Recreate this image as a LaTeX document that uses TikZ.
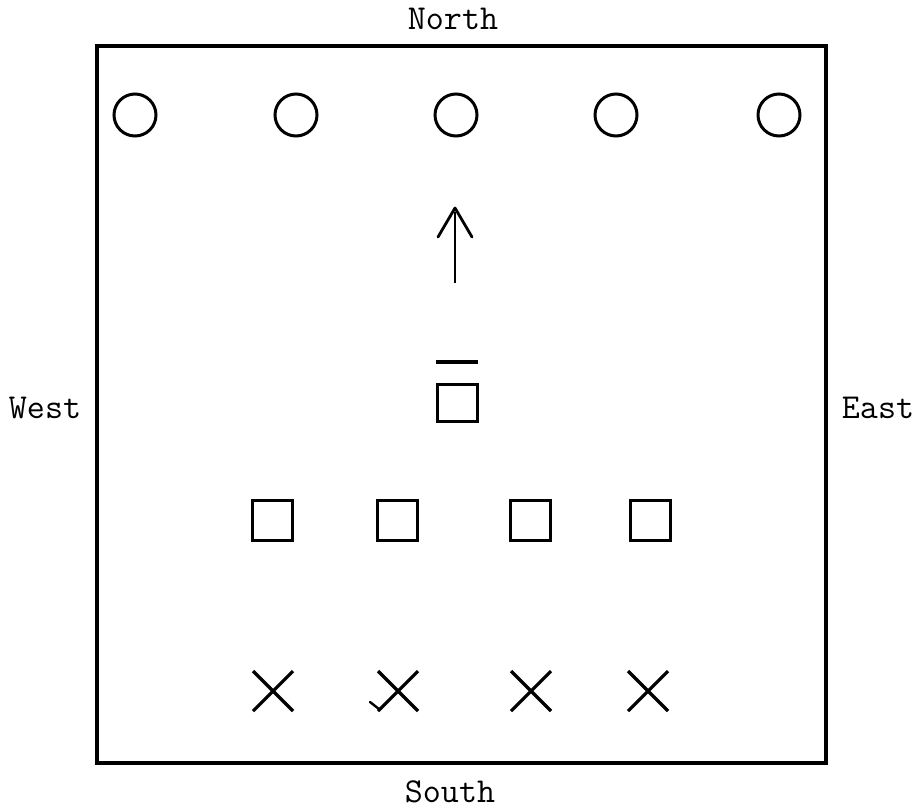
\documentclass[tikz,border=0pt]{standalone}
\usepackage{tikz}

\begin{document}
\begin{tikzpicture}[x=1pt,y=1pt,yscale=-1,line width=3pt,
  compass/.style={font=\ttfamily\fontsize{35}{40}\selectfont,inner sep=0pt}]
\useasboundingbox (0,0) rectangle (917,809);

%Shape: Rectangle [id:field]
\draw [line width=3.4pt] (97,46) rectangle (826,763) ;

%Text: compass points
\node [compass] (north) at (453,19) {North};
\node [compass] (south) at (450,792) {South};
\node [compass] (west) at (45,408) {West};
\node [compass] (east) at (878,408) {East};

%Shape: Circle row along the north side
\draw (135,115) circle (21) ;
\draw (296,115) circle (21) ;
\draw (456,115) circle (21) ;
\draw (616,115) circle (21) ;
\draw (779,115) circle (21) ;

%Straight Lines: arrow pointing north
\draw [line width=2.8pt] (455,283) -- (455,212) ;
\draw [line width=2.8pt,line cap=round,line join=round] (438,237) -- (455,208) -- (472,237) ;

%Shape: Square with bar
\draw [line width=3.2pt] (436,362) -- (478,362) ;
\draw (437,384) rectangle (477,421) ;

%Shape: Square row
\draw (252,500) rectangle (292,540) ;
\draw (377,500) rectangle (417,540) ;
\draw (510,500) rectangle (550,540) ;
\draw (630,500) rectangle (670,540) ;

%Shape: Cross row
\draw [line width=3.2pt] (253,671) -- (293,711) (293,671) -- (253,711) ;
\draw [line width=3.2pt] (378,671) -- (418,711) (418,671) -- (378,711) ;
\draw [line width=3.2pt] (511,671) -- (551,711) (551,671) -- (511,711) ;
\draw [line width=3.2pt] (628,671) -- (668,711) (668,671) -- (628,711) ;
%small tick on the second cross
\draw [line width=2.4pt,line cap=round] (370,702) -- (379,709) ;

\end{tikzpicture}
\end{document}
